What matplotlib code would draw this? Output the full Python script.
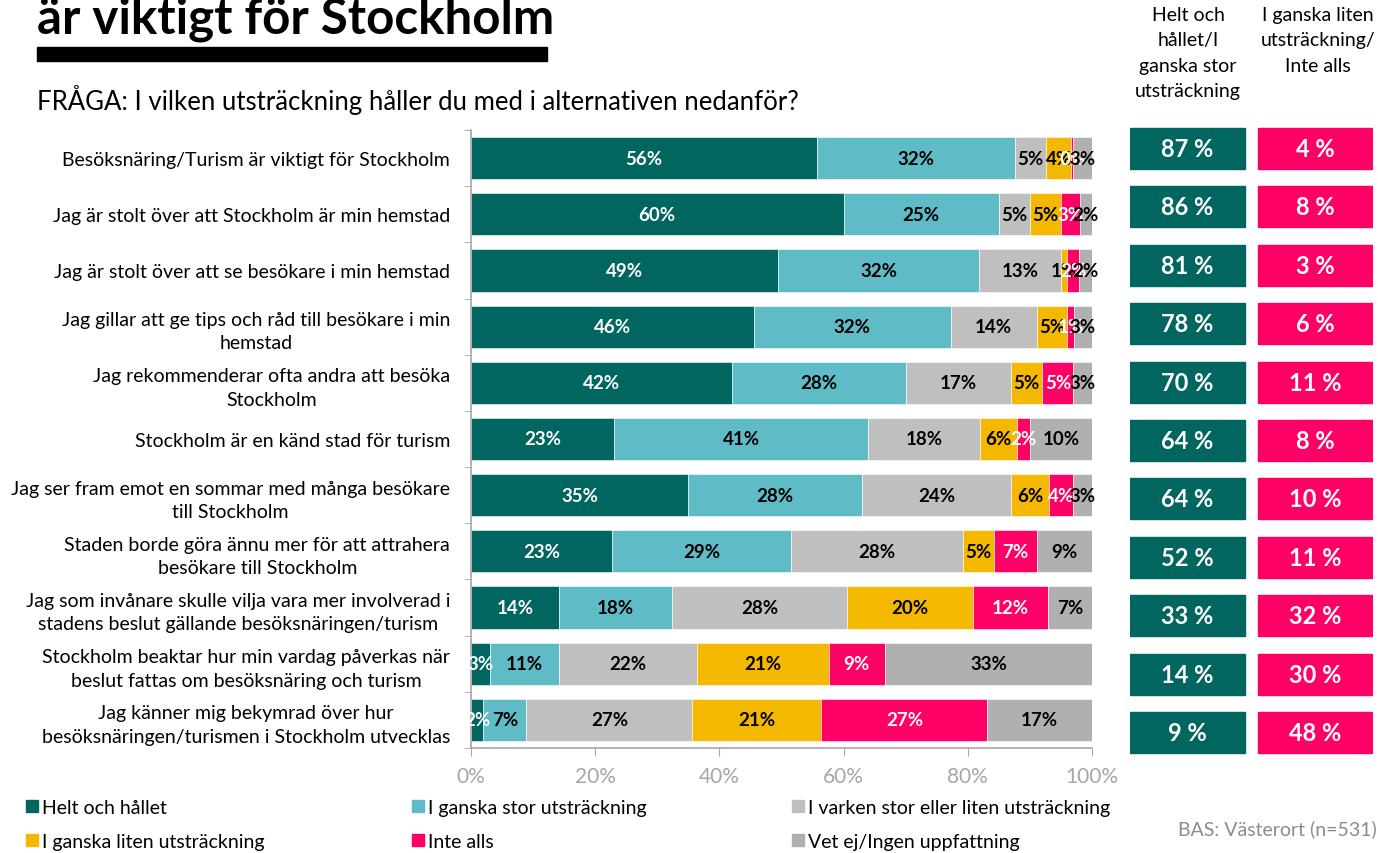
import matplotlib
matplotlib.use("Agg")
import matplotlib.pyplot as plt
from matplotlib.patches import Patch, Rectangle
import numpy as np

plt.rcParams['font.family'] = ['Lato', 'DejaVu Sans']

categories = [
    "Besöksnäring/Turism är viktigt för Stockholm",
    "Jag är stolt över att Stockholm är min hemstad",
    "Jag är stolt över att se besökare i min hemstad",
    "Jag gillar att ge tips och råd till besökare i min\nhemstad",
    "Jag rekommenderar ofta andra att besöka\nStockholm",
    "Stockholm är en känd stad för turism",
    "Jag ser fram emot en sommar med många besökare\ntill Stockholm",
    "Staden borde göra ännu mer för att attrahera\nbesökare till Stockholm",
    "Jag som invånare skulle vilja vara mer involverad i\nstadens beslut gällande besöksnäringen/turism",
    "Stockholm beaktar hur min vardag påverkas när\nbeslut fattas om besöksnäring och turism",
    "Jag känner mig bekymrad över hur\nbesöksnäringen/turismen i Stockholm utvecklas",
]

series_names = [
    "Helt och hållet",
    "I ganska stor utsträckning",
    "I varken stor eller liten utsträckning",
    "I ganska liten utsträckning",
    "Inte alls",
    "Vet ej/Ingen uppfattning",
]

helt     = [56, 60, 49, 46, 42, 23, 35, 23, 14, 3, 2]
ganska   = [32, 25, 32, 32, 28, 41, 28, 29, 18, 11, 7]
varken   = [5, 5, 13, 14, 17, 18, 24, 28, 28, 22, 27]
liten    = [4, 5, 1, 5, 5, 6, 6, 5, 20, 21, 21]
inte     = [0.4, 3, 2, 1, 5, 2, 4, 7, 12, 9, 27]
vetej    = [3, 2, 2, 3, 3, 10, 3, 9, 7, 33, 17]

positive = [87, 86, 81, 78, 70, 64, 64, 52, 33, 14, 9]
negative = [4, 8, 3, 6, 11, 8, 10, 11, 32, 30, 48]

xticks = [0, 20, 40, 60, 80, 100]
xticklabels = ["0%", "20%", "40%", "60%", "80%", "100%"]

header_pos = "Helt och\nhållet/I\nganska stor\nutsträckning"
header_neg = "I ganska liten\nutsträckning/\nInte alls"
title = "är viktigt för Stockholm"
subtitle = "FRÅGA: I vilken utsträckning håller du med i alternativen nedanför?"
base_note = "BAS: Västerort (n=531)"

colors = ["#00665F", "#5FBBC5", "#BFBFBF", "#F4B800", "#FF0066", "#B0B0B0"]
label_colors = ["white", "black", "black", "black", "white", "black"]

W, H = 1378, 854
fig = plt.figure(figsize=(W / 100, H / 100), dpi=100)

def fx(px):
    return px / W

def fy(py):
    return 1 - py / H

# main axes
ax = fig.add_axes([fx(471), fy(749), fx(1092) - fx(471), fy(131) - fy(749)])
data = np.array([helt, ganska, varken, liten, inte, vetej], dtype=float)
totals = data.sum(axis=0)
norm = data / totals * 100
y = np.arange(len(categories))
left = np.zeros(len(categories))
for i in range(len(series_names)):
    ax.barh(y, norm[i], left=left, height=0.75, color=colors[i],
            edgecolor="white", linewidth=0.4)
    for j in range(len(categories)):
        ax.text(left[j] + norm[i][j] / 2, y[j], f"{data[i][j]:.0f}%",
                ha="center", va="center", fontsize=13.5, fontweight="bold",
                color=label_colors[i])
    left += norm[i]

ax.set_xlim(0, 100)
ax.set_ylim(len(categories) - 0.5, -0.5)
ax.set_xticks(xticks)
ax.set_xticklabels(xticklabels, color="#A6A6A6", fontsize=15)
ax.set_yticks(y)
ax.set_yticklabels(categories, fontsize=14, multialignment="center",
                   linespacing=1.45)
ax.set_yticks(np.arange(len(categories) + 1) - 0.5, minor=True)
ax.tick_params(axis="y", which="major", length=0, pad=15)
ax.tick_params(axis="y", which="minor", length=5, color="#A6A6A6", direction="out")
ax.tick_params(axis="x", length=6, color="#A6A6A6", pad=7)
for s in ["top", "right"]:
    ax.spines[s].set_visible(False)
for s in ["left", "bottom"]:
    ax.spines[s].set_color("#A6A6A6")
    ax.spines[s].set_linewidth(1.2)

# summary boxes
ax2 = fig.add_axes([fx(1130), fy(763), fx(1373) - fx(1130), fy(120) - fy(763)])
ax2.set_xlim(0, 243)
ax2.set_ylim(len(categories) - 0.5, -0.5)
ax2.axis("off")
for j in range(len(categories)):
    ax2.add_patch(Rectangle((0, j - 0.35), 115, 0.70, color="#00665F"))
    ax2.text(57.5, j, f"{positive[j]} %", ha="center", va="center",
             color="white", fontsize=17, fontweight="bold")
    ax2.add_patch(Rectangle((128, j - 0.35), 115, 0.70, color="#FF0066"))
    ax2.text(185.5, j, f"{negative[j]} %", ha="center", va="center",
             color="white", fontsize=17, fontweight="bold")

fig.text(fx(1188), fy(7), header_pos, ha="center", va="top", fontsize=14,
         linespacing=1.6)
fig.text(fx(1318), fy(7), header_neg, ha="center", va="top", fontsize=14,
         linespacing=1.6)

# title & subtitle
fig.text(fx(37), fy(33), title, ha="left", va="baseline", fontsize=35.5,
         fontweight="bold")
fig.add_artist(Rectangle((fx(37), fy(62)), fx(547) - fx(37), fy(48) - fy(62),
                         transform=fig.transFigure, color="black"))
fig.text(fx(37), fy(100), subtitle, ha="left", va="center", fontsize=18.5)

# legends
handles = [Patch(color=c) for c in colors]
col_x = [26, 412, 792]
for k in range(3):
    idx = [k, k + 3]
    leg = fig.legend([handles[i] for i in idx], [series_names[i] for i in idx],
                     loc="upper left", bbox_to_anchor=(fx(col_x[k]), fy(800)),
                     frameon=False, fontsize=14, handlelength=0.6,
                     handleheight=0.6, handletextpad=0.2, labelspacing=0.85,
                     borderpad=0, borderaxespad=0)

fig.text(fx(1377), fy(829), base_note, ha="right", va="center", fontsize=14,
         color="#8C8C8C")

fig.savefig("out.png", dpi=100)
